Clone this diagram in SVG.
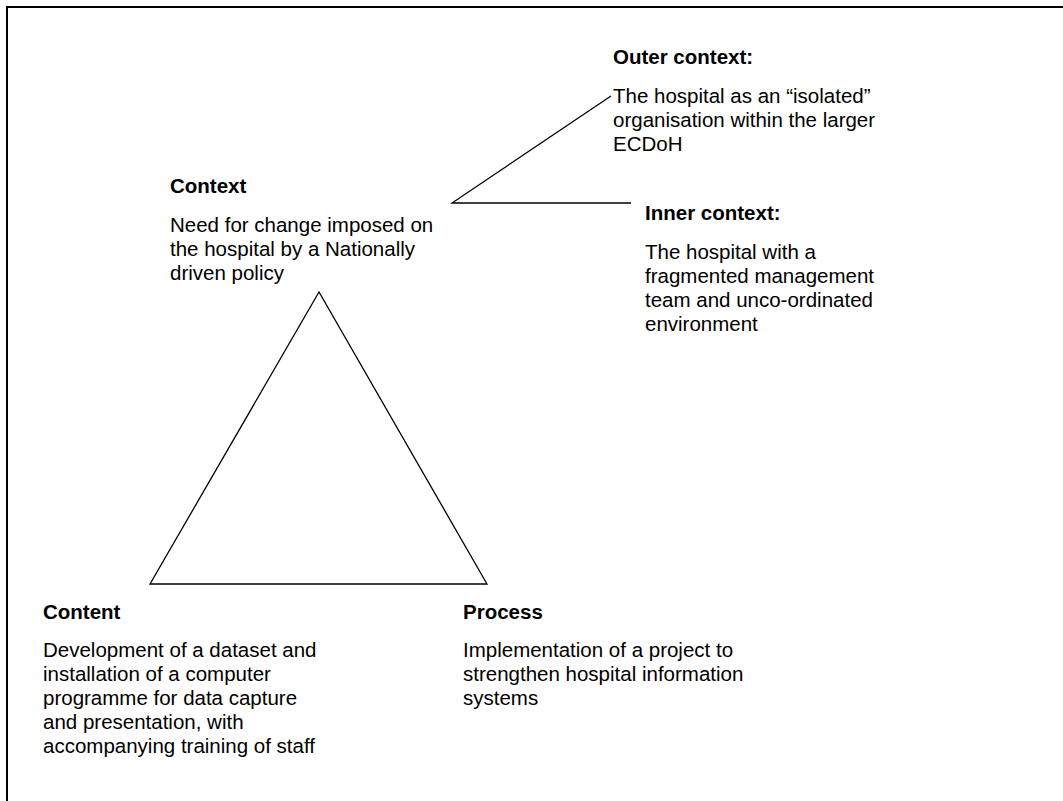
<svg xmlns="http://www.w3.org/2000/svg" width="1063" height="801" viewBox="0 0 1063 801">
  <style>
    text { font-family: "Liberation Sans", Arial, sans-serif; font-size: 20.5px; fill: #000; }
    .hd { font-weight: bold; }
    .ln { fill: none; stroke: #000; stroke-width: 1.3; }
  </style>
  <rect width="1063" height="801" fill="#fff"/>
  <!-- frame: top and left edges only are inside the page -->
  <rect x="7" y="7" width="1100" height="850" fill="none" stroke="#000" stroke-width="2"/>

  <g id="triangle">
    <polygon class="ln" points="319,292 150,584 487,584"/>
  </g>

  <g id="connectors">
    <polyline class="ln" points="611,96 452,203 631,203"/>
  </g>

  <g id="outer-context">
    <text class="hd" x="613" y="64">Outer context:</text>
    <text x="613" y="103">The hospital as an “isolated”</text>
    <text x="613" y="127">organisation within the larger</text>
    <text x="613" y="151">ECDoH</text>
  </g>

  <g id="context">
    <text class="hd" x="170" y="193">Context</text>
    <text x="170" y="232">Need for change imposed on</text>
    <text x="170" y="256">the hospital by a Nationally</text>
    <text x="170" y="280">driven policy</text>
  </g>

  <g id="inner-context">
    <text class="hd" x="645" y="220">Inner context:</text>
    <text x="645" y="259">The hospital with a</text>
    <text x="645" y="283">fragmented management</text>
    <text x="645" y="307">team and unco-ordinated</text>
    <text x="645" y="331">environment</text>
  </g>

  <g id="content">
    <text class="hd" x="43" y="619">Content</text>
    <text x="43" y="657">Development of a dataset and</text>
    <text x="43" y="681">installation of a computer</text>
    <text x="43" y="705">programme for data capture</text>
    <text x="43" y="729">and presentation, with</text>
    <text x="43" y="753">accompanying training of staff</text>
  </g>

  <g id="process">
    <text class="hd" x="463" y="619">Process</text>
    <text x="463" y="657">Implementation of a project to</text>
    <text x="463" y="681">strengthen hospital information</text>
    <text x="463" y="705">systems</text>
  </g>
</svg>
